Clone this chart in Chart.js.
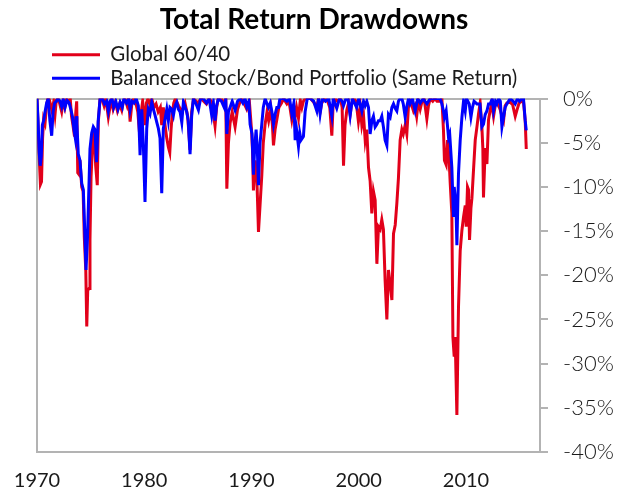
<!DOCTYPE html>
<html>
<head>
<meta charset="utf-8">
<title>Total Return Drawdowns</title>
<script src="https://cdn.jsdelivr.net/npm/chart.js@4.4.1/dist/chart.umd.min.js"></script>
<style>
  html, body { margin: 0; padding: 0; background: #fff; }
  #chart { display: block; }
</style>
</head>
<body>
<canvas id="chart" width="619" height="494"></canvas>
<script>
// series names + axis ticks
const seriesNames = ['Global 60/40', 'Balanced Stock/Bond Portfolio (Same Return)'];
const xTickYears = [1970, 1980, 1990, 2000, 2010];
const yTickValues = [0, -5, -10, -15, -20, -25, -30, -35, -40];

// Global 60/40 drawdown (%)
const redYears = [1970.00, 1970.10, 1970.22, 1970.32, 1970.42, 1970.52, 1970.62, 1970.75, 1970.88, 1971.00, 1971.12, 1971.25, 1971.40, 1971.55, 1971.68, 1971.80, 1971.95, 1972.10, 1972.30, 1972.45, 1972.60, 1972.75, 1972.95, 1973.10, 1973.22, 1973.35, 1973.50, 1973.62, 1973.70, 1973.80, 1973.92, 1974.01, 1974.17, 1974.30, 1974.41, 1974.55, 1974.64, 1974.73, 1974.85, 1974.94, 1975.04, 1975.16, 1975.32, 1975.47, 1975.62, 1975.72, 1975.88, 1976.05, 1976.25, 1976.40, 1976.55, 1976.65, 1976.80, 1976.95, 1977.10, 1977.30, 1977.50, 1977.70, 1977.90, 1978.05, 1978.20, 1978.40, 1978.55, 1978.68, 1978.85, 1979.00, 1979.20, 1979.40, 1979.60, 1979.72, 1979.85, 1980.07, 1980.20, 1980.35, 1980.55, 1980.70, 1980.90, 1981.10, 1981.30, 1981.50, 1981.63, 1981.78, 1981.94, 1982.10, 1982.25, 1982.38, 1982.50, 1982.60, 1982.75, 1982.90, 1983.20, 1983.50, 1983.80, 1984.05, 1984.27, 1984.42, 1984.60, 1985.00, 1985.30, 1985.80, 1986.05, 1986.30, 1986.60, 1986.75, 1986.90, 1987.20, 1987.45, 1987.60, 1987.70, 1987.85, 1988.00, 1988.20, 1988.47, 1988.70, 1988.90, 1989.10, 1989.30, 1989.56, 1989.80, 1990.00, 1990.10, 1990.18, 1990.35, 1990.50, 1990.65, 1990.80, 1990.96, 1991.10, 1991.27, 1991.45, 1991.60, 1991.80, 1991.95, 1992.05, 1992.20, 1992.36, 1992.55, 1992.80, 1993.00, 1993.30, 1993.50, 1993.76, 1993.95, 1994.07, 1994.20, 1994.38, 1994.55, 1994.70, 1994.84, 1995.00, 1995.50, 1995.80, 1996.09, 1996.25, 1996.40, 1996.55, 1996.80, 1997.10, 1997.30, 1997.49, 1997.60, 1997.80, 1998.00, 1998.30, 1998.45, 1998.58, 1998.72, 1998.89, 1999.05, 1999.20, 1999.35, 1999.55, 1999.75, 1999.97, 2000.15, 2000.29, 2000.45, 2000.60, 2000.75, 2000.91, 2001.06, 2001.22, 2001.37, 2001.53, 2001.69, 2001.84, 2002.00, 2002.15, 2002.30, 2002.46, 2002.62, 2002.77, 2002.93, 2003.09, 2003.24, 2003.40, 2003.55, 2003.70, 2003.86, 2004.02, 2004.15, 2004.33, 2004.48, 2004.64, 2004.79, 2004.95, 2005.10, 2005.26, 2005.40, 2005.55, 2005.73, 2005.90, 2006.10, 2006.35, 2006.50, 2006.66, 2006.90, 2007.10, 2007.30, 2007.59, 2007.75, 2007.90, 2007.99, 2008.15, 2008.28, 2008.43, 2008.53, 2008.68, 2008.78, 2008.90, 2008.99, 2009.15, 2009.30, 2009.46, 2009.62, 2009.77, 2009.93, 2010.02, 2010.14, 2010.23, 2010.33, 2010.46, 2010.55, 2010.70, 2010.86, 2011.02, 2011.17, 2011.32, 2011.48, 2011.57, 2011.63, 2011.79, 2011.95, 2012.10, 2012.26, 2012.40, 2012.57, 2012.75, 2012.88, 2013.05, 2013.20, 2013.35, 2013.50, 2013.65, 2013.81, 2014.12, 2014.35, 2014.59, 2014.75, 2014.95, 2015.21, 2015.36, 2015.52, 2015.62];
const redValues = [0, -3.0, -7.0, -9.7, -9.4, -4.5, -2.3, -2.8, -1.0, 0, 0, -0.6, -1.4, -0.4, -1.8, -0.2, 0, -0.5, -1.5, -0.3, -1.0, 0, -0.4, 0, -2.0, -3.0, -4.3, -1.5, -0.3, -8.4, -8.6, -7.0, -10.0, -10.5, -15.7, -19.5, -25.8, -21.7, -21.5, -16.0, -8.9, -5.7, -3.4, -7.6, -9.8, -2.6, 0, 0, -0.8, 0, -1.2, -2.1, -1.0, -0.2, -1.2, -0.4, -1.4, -0.6, -1.3, -0.3, 0, -0.8, 0, -2.6, -0.5, 0, -0.4, -1.5, -4.5, -1.5, -0.3, -3.0, -0.5, 0, -0.8, 0, -1.0, -0.6, -1.5, -1.0, -3.0, -1.0, -3.0, -4.5, -5.5, -6.1, -3.5, -1.9, -0.5, 0, -0.8, -1.5, -0.5, -2.0, -5.8, -1.5, 0, -0.5, 0, -0.6, 0, -0.4, -3.1, -1.0, 0, 0, -0.6, 0, -10.2, -5.0, -2.8, -1.5, -3.2, -1.2, -0.5, 0, -0.5, -1.2, -0.3, -3.5, -6.0, -10.4, -7.0, -9.0, -15.1, -12.0, -8.7, -5.0, -2.9, -1.5, -2.5, -1.2, -3.0, -5.3, -3.5, -2.4, -1.0, -0.5, 0, -0.6, -0.3, -2.4, -1.0, -2.0, -1.0, -2.2, -0.2, -1.0, -0.3, 0, 0, -0.4, -1.0, 0, -1.5, -0.5, 0, -0.3, -1.0, -4.2, -1.0, 0, -0.3, 0, -1.0, -7.6, -3.0, -1.3, -0.5, -1.8, -0.5, 0, -0.3, -2.6, -1.0, -3.0, -2.0, -4.7, -3.5, -7.8, -9.3, -13.0, -10.5, -11.5, -18.7, -14.5, -14.8, -13.7, -14.8, -20.6, -25.0, -19.4, -21.0, -22.8, -15.3, -14.3, -11.9, -9.0, -4.7, -3.5, -4.0, -3.0, -4.0, -0.8, -0.3, -0.8, -1.4, -0.9, -2.0, -0.3, -1.2, -0.3, 0, -2.3, -0.8, 0, -0.3, 0, -0.3, -0.3, 0, -3.6, -7.0, -7.5, -4.7, -7.0, -9.6, -13.0, -27.0, -29.2, -27.0, -35.8, -23.6, -17.2, -14.9, -13.4, -12.1, -14.5, -10.0, -10.3, -16.0, -12.4, -11.3, -8.1, -4.7, -3.2, -1.7, -0.5, -3.2, -5.6, -11.2, -5.6, -7.4, -2.4, -1.3, -0.5, -2.0, -0.6, -0.5, -0.8, -1.3, -2.0, -2.5, -0.8, -0.5, -0.4, -0.7, -2.0, -1.3, -0.5, -0.3, -0.3, -2.5, -5.7];

// Balanced stock/bond portfolio drawdown (%)
const blueYears = [1970.00, 1970.10, 1970.20, 1970.30, 1970.40, 1970.50, 1970.62, 1970.75, 1970.90, 1971.05, 1971.20, 1971.37, 1971.50, 1971.65, 1971.80, 1971.95, 1972.15, 1972.30, 1972.45, 1972.61, 1972.80, 1973.00, 1973.15, 1973.30, 1973.45, 1973.55, 1973.65, 1973.72, 1973.85, 1974.01, 1974.17, 1974.32, 1974.48, 1974.57, 1974.70, 1974.79, 1974.94, 1975.10, 1975.25, 1975.40, 1975.55, 1975.70, 1975.88, 1976.10, 1976.30, 1976.50, 1976.65, 1976.80, 1977.00, 1977.15, 1977.35, 1977.55, 1977.75, 1977.95, 1978.10, 1978.35, 1978.55, 1978.68, 1978.85, 1979.05, 1979.25, 1979.45, 1979.61, 1979.77, 1979.92, 1980.07, 1980.23, 1980.38, 1980.54, 1980.70, 1980.85, 1981.01, 1981.17, 1981.32, 1981.47, 1981.63, 1981.78, 1981.94, 1982.10, 1982.25, 1982.40, 1982.57, 1982.72, 1982.87, 1983.03, 1983.18, 1983.34, 1983.50, 1983.65, 1983.96, 1984.10, 1984.27, 1984.42, 1984.58, 1984.80, 1985.05, 1985.25, 1985.51, 1985.80, 1986.05, 1986.29, 1986.45, 1986.60, 1986.75, 1986.91, 1987.20, 1987.45, 1987.60, 1987.70, 1987.85, 1988.00, 1988.20, 1988.47, 1988.70, 1988.95, 1989.20, 1989.40, 1989.56, 1989.75, 1989.87, 1990.05, 1990.18, 1990.30, 1990.43, 1990.55, 1990.65, 1990.80, 1990.96, 1991.10, 1991.27, 1991.42, 1991.58, 1991.75, 1991.90, 1992.05, 1992.20, 1992.36, 1992.51, 1992.65, 1993.00, 1993.30, 1993.55, 1993.76, 1993.95, 1994.07, 1994.20, 1994.38, 1994.50, 1994.62, 1994.84, 1995.00, 1995.20, 1995.50, 1995.80, 1996.09, 1996.25, 1996.40, 1996.60, 1996.90, 1997.20, 1997.49, 1997.62, 1997.95, 1998.20, 1998.45, 1998.58, 1998.80, 1999.00, 1999.20, 1999.40, 1999.60, 1999.80, 2000.00, 2000.29, 2000.45, 2000.60, 2000.75, 2000.91, 2001.06, 2001.22, 2001.37, 2001.53, 2001.69, 2001.84, 2002.00, 2002.15, 2002.30, 2002.46, 2002.62, 2002.77, 2002.93, 2003.09, 2003.24, 2003.40, 2003.55, 2003.70, 2003.86, 2004.02, 2004.15, 2004.33, 2004.48, 2004.64, 2004.79, 2005.00, 2005.26, 2005.50, 2005.73, 2006.00, 2006.35, 2006.66, 2007.00, 2007.59, 2007.75, 2007.90, 2007.99, 2008.15, 2008.37, 2008.48, 2008.68, 2008.83, 2008.90, 2009.06, 2009.15, 2009.30, 2009.46, 2009.62, 2009.77, 2009.93, 2010.05, 2010.30, 2010.46, 2010.60, 2010.75, 2011.02, 2011.30, 2011.48, 2011.63, 2011.79, 2011.95, 2012.10, 2012.26, 2012.45, 2012.57, 2012.75, 2012.88, 2013.05, 2013.20, 2013.35, 2013.50, 2013.65, 2013.81, 2014.12, 2014.40, 2014.59, 2014.80, 2015.00, 2015.21, 2015.36, 2015.52, 2015.62];
const blueValues = [0, -2.5, -6.0, -7.6, -6.5, -3.0, -2.5, -1.5, -0.5, 0, -2.5, -4.2, -1.5, -0.5, -0.3, 0, -0.3, -0.9, 0, -1.0, -0.2, -0.5, -1.2, -2.0, -3.5, -4.3, -2.0, -2.8, -6.3, -7.0, -9.6, -10.3, -16.0, -19.4, -16.0, -12.2, -5.7, -3.9, -3.2, -3.5, -7.2, -2.6, 0, 0, -0.6, -0.3, -1.4, -0.3, 0, -1.0, -0.3, -1.2, -0.4, -1.0, 0, -0.5, 0, -1.3, -0.3, -0.5, 0, -0.8, -6.4, -1.2, -5.4, -11.7, -3.4, -1.2, -1.7, -0.4, -1.2, -1.9, -2.7, -3.4, -4.5, -10.7, -3.4, -2.3, -1.2, -2.5, -1.0, -1.2, -1.9, -0.8, -0.4, -1.2, -1.5, -2.7, -0.4, -1.5, -2.5, -6.3, -2.0, 0, -0.5, -1.3, 0, 0, -0.5, 0, -1.9, -0.5, -2.5, -0.8, 0, -0.3, -1.0, 0, -4.0, -1.5, -1.0, -0.3, -1.3, -0.3, 0, -0.5, 0, -0.9, -0.3, -2.9, -4.0, -8.6, -5.5, -3.5, -6.0, -9.8, -5.0, -2.9, -1.0, 0, -0.5, -1.0, -0.5, -1.5, -2.9, -1.8, -1.0, -1.0, 0, 0, -0.3, 0, -1.7, -0.5, -4.7, -3.5, -5.4, -3.9, -4.7, -4.3, -1.5, 0, 0, -0.3, -1.4, 0, -1.7, 0, -0.3, 0, -2.0, 0, -1.1, 0, -0.3, -0.8, 0, 0, -1.9, 0, -0.5, -1.0, 0, -1.4, -0.3, -0.8, -0.3, -1.0, -4.0, -2.5, -2.0, -3.2, -2.9, -2.5, -2.5, -2.0, -3.2, -4.7, -5.3, -1.8, -2.1, -1.0, -0.6, -1.1, -1.4, -0.3, 0, 0, -0.6, -2.1, -0.9, 0, -0.6, 0, -1.4, 0, -0.5, 0, -0.6, 0, 0, 0, -0.6, -1.4, -2.1, -1.4, -4.4, -4.0, -7.8, -13.4, -10.0, -11.9, -16.6, -8.5, -4.7, -2.1, -0.3, -1.4, 0, -0.6, -2.1, -1.0, -0.3, -0.6, -0.6, -3.2, -2.9, -1.8, -1.4, -0.6, -0.6, 0, -1.4, -0.3, -0.6, 0, -0.3, -3.2, -2.1, -1.0, -0.6, 0, -0.3, -0.6, 0, -0.3, 0, 0, -2.5, -3.6];

const axisGray = '#b3b3b3';
const textColor = '#1a1a1a';

function toPoints(xs, ys) {
    return xs.map((x, i) => ({ x: x, y: ys[i] }));
}

// nudge title left and legend rows right, like the original layout
const blockShift = {
    id: 'blockShift',
    afterLayout(chart) {
        chart.titleBlock.left -= 14;
        chart.titleBlock.right -= 14;
        chart.legend.left += 12;
    }
};

const ctx = document.getElementById('chart');
const chart = new Chart(ctx, {
    type: 'line',
    data: {
        datasets: [{
            label: seriesNames[0],
            data: toPoints(redYears, redValues),
            borderColor: '#e2001a',
            backgroundColor: '#e2001a',
            borderWidth: 3,
            pointRadius: 0,
            order: 1,
        }, {
            label: seriesNames[1],
            data: toPoints(blueYears, blueValues),
            borderColor: '#0000ff',
            backgroundColor: '#0000ff',
            borderWidth: 3,
            pointRadius: 0,
            order: 0,
        }]
    },
    options: {
        responsive: false,
        animation: false,
        layout: { padding: { left: 37, right: 0, top: 0, bottom: 0 } },
        plugins: {
            title: {
                display: true,
                text: 'Total Return Drawdowns',
                color: '#000',
                font: { family: 'Lato', size: 28, weight: 'bold' },
                padding: { top: 3, bottom: 5 },
            },
            legend: {
                display: true,
                position: 'top',
                align: 'start',
                labels: {
                    usePointStyle: true,
                    pointStyle: 'line',
                    pointStyleWidth: 48,
                    padding: 3,
                    color: textColor,
                    font: { family: 'Lato', size: 20.5 },
                    sort: (a, b) => a.datasetIndex - b.datasetIndex,
                },
            },
            tooltip: { enabled: false },
        },
        scales: {
            x: {
                type: 'linear',
                min: 1970,
                max: 2016.9,
                afterBuildTicks: s => { s.ticks = xTickYears.map(v => ({ value: v })); },
                afterFit: s => {
                    s.height = 42;
                    s.paddingLeft = 0;
                    s.paddingRight = 0;
                },
                ticks: {
                    color: textColor,
                    font: { family: 'Lato', size: 20 },
                    padding: 17,
                    maxRotation: 0,
                    callback: v => String(v),
                },
                grid: {
                    drawTicks: false,
                    lineWidth: 2,
                    color: c => (c.tick && c.tick.value === 1970 ? axisGray : 'rgba(0,0,0,0)'),
                },
                border: { display: true, color: axisGray, width: 2 },
            },
            y: {
                type: 'linear',
                position: 'right',
                min: -40,
                max: 0,
                afterBuildTicks: s => { s.ticks = yTickValues.map(v => ({ value: v })); },
                afterFit: s => { s.width = 79; },
                ticks: {
                    color: textColor,
                    font: { family: 'Lato', size: 22, weight: '300' },
                    padding: 15,
                    callback: v => v + '%',
                },
                grid: {
                    drawTicks: true,
                    tickLength: 8,
                    tickColor: axisGray,
                    lineWidth: 2,
                    color: c => (c.tick && c.tick.value === 0 ? axisGray : 'rgba(0,0,0,0)'),
                },
                border: { display: true, color: axisGray, width: 2 },
            },
        },
    },
    plugins: [blockShift],
});
</script>
</body>
</html>
